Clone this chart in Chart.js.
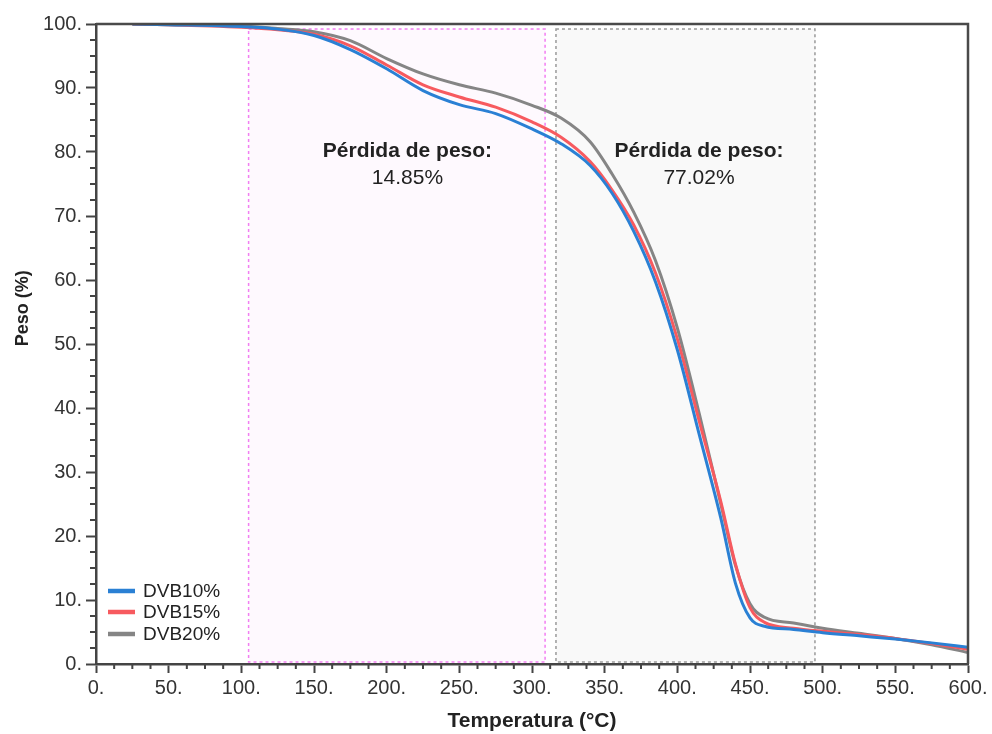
<!DOCTYPE html>
<html>
<head>
<meta charset="utf-8">
<script src="https://cdn.jsdelivr.net/npm/chart.js@4.4.1/dist/chart.umd.min.js"></script>
<style>
    html, body { margin: 0; padding: 0; background: #fff; }
</style>
</head>
<body>
<canvas id="grafikTGA" width="992" height="734"></canvas>
<script>
// data TGA
const temps = [25, 50, 100, 125, 150, 175, 200, 225, 250, 275, 300, 320, 340, 355, 370, 385, 400, 415, 430, 440, 450, 460, 480, 500, 525, 550, 575, 600];
const dvb10 = [100, 99.9, 99.6, 99.2, 98.2, 96.0, 93.0, 89.6, 87.4, 86.0, 83.6, 81.3, 77.9, 73.6, 67.6, 59.7, 49.1, 35.9, 22.7, 12.6, 7.2, 5.9, 5.4, 4.9, 4.4, 3.9, 3.3, 2.6];
const dvb15 = [100, 99.9, 99.5, 99.1, 98.4, 96.6, 93.6, 90.5, 88.6, 87.0, 84.7, 82.3, 78.5, 74.1, 68.6, 61.1, 50.8, 38.0, 25.3, 15.6, 8.8, 6.5, 5.6, 5.1, 4.6, 4.0, 3.2, 2.3];
const dvb20 = [100, 99.9, 99.7, 99.3, 98.8, 97.4, 94.6, 92.2, 90.5, 89.2, 87.3, 85.3, 81.6, 76.6, 70.6, 63.0, 52.5, 39.2, 24.9, 15.4, 9.4, 7.3, 6.4, 5.6, 4.8, 4.0, 3.0, 1.8];
const seriesNames = ["DVB10%", "DVB15%", "DVB20%"];

// zona kehilangan berat (°C) dan teksnya
const zonaPink = [105, 309];
const zonaAbu = [316.5, 494.7];
const zonaPeso = [0.3, 99.2];
const judulZona = "Pérdida de peso:";
const nilaiZona = ["14.85%", "77.02%"];

const warna = ["#2a80d4", "#f75a5f", "#858585"];
const FONT = "'Liberation Sans', Arial, sans-serif";

const toPoints = (arr) => temps.map((t, i) => ({ x: t, y: arr[i] }));
const isMajor = (v, step) => Math.abs(v / step - Math.round(v / step)) < 1e-6;

const dekorasi = {
    id: "dekorasi",
    beforeDatasetsDraw(chart) {
        const { ctx, scales: { x, y } } = chart;
        const top = y.getPixelForValue(zonaPeso[1]);
        const bottom = y.getPixelForValue(zonaPeso[0]);
        const kotak = [
            { r: zonaPink, fill: "#fef9fe", stroke: "#f27ef2" },
            { r: zonaAbu, fill: "#f9f9f9", stroke: "#9a9a9a" },
        ];
        ctx.save();
        kotak.forEach((k) => {
            const l = x.getPixelForValue(k.r[0]);
            const r = x.getPixelForValue(k.r[1]);
            ctx.fillStyle = k.fill;
            ctx.fillRect(l, top, r - l, bottom - top);
            ctx.setLineDash([3, 3]);
            ctx.lineWidth = 1.5;
            ctx.strokeStyle = k.stroke;
            ctx.strokeRect(l, top, r - l, bottom - top);
        });
        ctx.restore();
    },
    afterDatasetsDraw(chart) {
        const { ctx, scales: { x, y } } = chart;
        const posX = [214.3, 414.9];
        ctx.save();
        ctx.fillStyle = "#222";
        ctx.textAlign = "center";
        ctx.textBaseline = "middle";
        posX.forEach((t, i) => {
            const px = x.getPixelForValue(t);
            ctx.font = "bold 21px " + FONT;
            ctx.fillText(judulZona, px, y.getPixelForValue(80.2));
            ctx.font = "21px " + FONT;
            ctx.fillText(nilaiZona[i], px, y.getPixelForValue(75.9));
        });
        ctx.restore();
    },
    afterDraw(chart) {
        const { ctx, chartArea: a, scales: { x, y } } = chart;
        ctx.save();

        // garis bingkai atas & kanan
        ctx.strokeStyle = "#4a4a4a";
        ctx.lineWidth = 2.5;
        ctx.beginPath();
        ctx.moveTo(a.left, a.top);
        ctx.lineTo(a.right, a.top);
        ctx.lineTo(a.right, a.bottom);
        ctx.stroke();

        // tick minor
        ctx.lineWidth = 2;
        ctx.strokeStyle = "#444";
        ctx.beginPath();
        x.ticks.forEach((t) => {
            if (isMajor(t.value, 50)) return;
            const px = x.getPixelForValue(t.value);
            ctx.moveTo(px, a.bottom);
            ctx.lineTo(px, a.bottom + 5);
        });
        y.ticks.forEach((t) => {
            if (isMajor(t.value, 10)) return;
            const py = y.getPixelForValue(t.value);
            ctx.moveTo(a.left, py);
            ctx.lineTo(a.left - 6, py);
        });
        ctx.stroke();

        // legenda di kiri bawah
        ctx.font = "19px " + FONT;
        ctx.textAlign = "left";
        ctx.textBaseline = "middle";
        const rows = [73, 52, 30];
        seriesNames.forEach((nama, i) => {
            const py = a.bottom - rows[i];
            ctx.strokeStyle = warna[i];
            ctx.lineWidth = 4.5;
            ctx.beginPath();
            ctx.moveTo(a.left + 12, py);
            ctx.lineTo(a.left + 39, py);
            ctx.stroke();
            ctx.fillStyle = "#222";
            ctx.fillText(nama, a.left + 47, py + 1);
        });

        // judul sumbu y
        ctx.translate(23, y.getPixelForValue(55.6));
        ctx.rotate(-Math.PI / 2);
        ctx.textAlign = "center";
        ctx.font = "bold 18px " + FONT;
        ctx.fillText("Peso (%)", 0, 0);
        ctx.restore();
    },
};

const ctx = document.getElementById("grafikTGA").getContext("2d");

new Chart(ctx, {
    type: "line",
    data: {
        datasets: [dvb10, dvb15, dvb20].map((arr, i) => ({
            label: seriesNames[i],
            data: toPoints(arr),
            borderColor: warna[i],
            borderWidth: 3,
            pointRadius: 0,
            cubicInterpolationMode: "monotone",
            fill: false,
        })),
    },
    options: {
        responsive: false,
        animation: false,
        layout: { padding: { left: 0, right: 24, top: 24, bottom: 0 } },
        plugins: {
            legend: { display: false },
            tooltip: { enabled: false },
        },
        scales: {
            x: {
                type: "linear",
                min: 0,
                max: 600,
                afterFit: (s) => { s.height = 70; },
                ticks: {
                    stepSize: 12.5,
                    autoSkip: false,
                    maxRotation: 0,
                    padding: 3,
                    color: "#333",
                    font: { family: FONT, size: 20 },
                    callback: (v) => (isMajor(v, 50) ? v + "." : ""),
                },
                grid: {
                    drawOnChartArea: false,
                    tickLength: 9,
                    tickWidth: 2,
                    tickColor: (c) => (c.tick && isMajor(c.tick.value, 50) ? "#444" : "rgba(0,0,0,0)"),
                },
                border: { color: "#444", width: 2.5 },
                title: {
                    display: true,
                    text: "Temperatura (°C)",
                    color: "#222",
                    font: { family: FONT, size: 21, weight: "bold" },
                    padding: { top: 0, bottom: 0 },
                },
            },
            y: {
                min: 0,
                max: 100,
                afterFit: (s) => { s.width = 96; },
                ticks: {
                    stepSize: 2.5,
                    autoSkip: false,
                    padding: 4,
                    color: "#333",
                    font: { family: FONT, size: 20 },
                    callback: (v) => (isMajor(v, 10) ? v + "." : ""),
                },
                grid: {
                    drawOnChartArea: false,
                    tickLength: 10,
                    tickWidth: 2,
                    tickColor: (c) => (c.tick && isMajor(c.tick.value, 10) ? "#444" : "rgba(0,0,0,0)"),
                },
                border: { color: "#444", width: 2.5 },
            },
        },
    },
    plugins: [dekorasi],
});
</script>
</body>
</html>
